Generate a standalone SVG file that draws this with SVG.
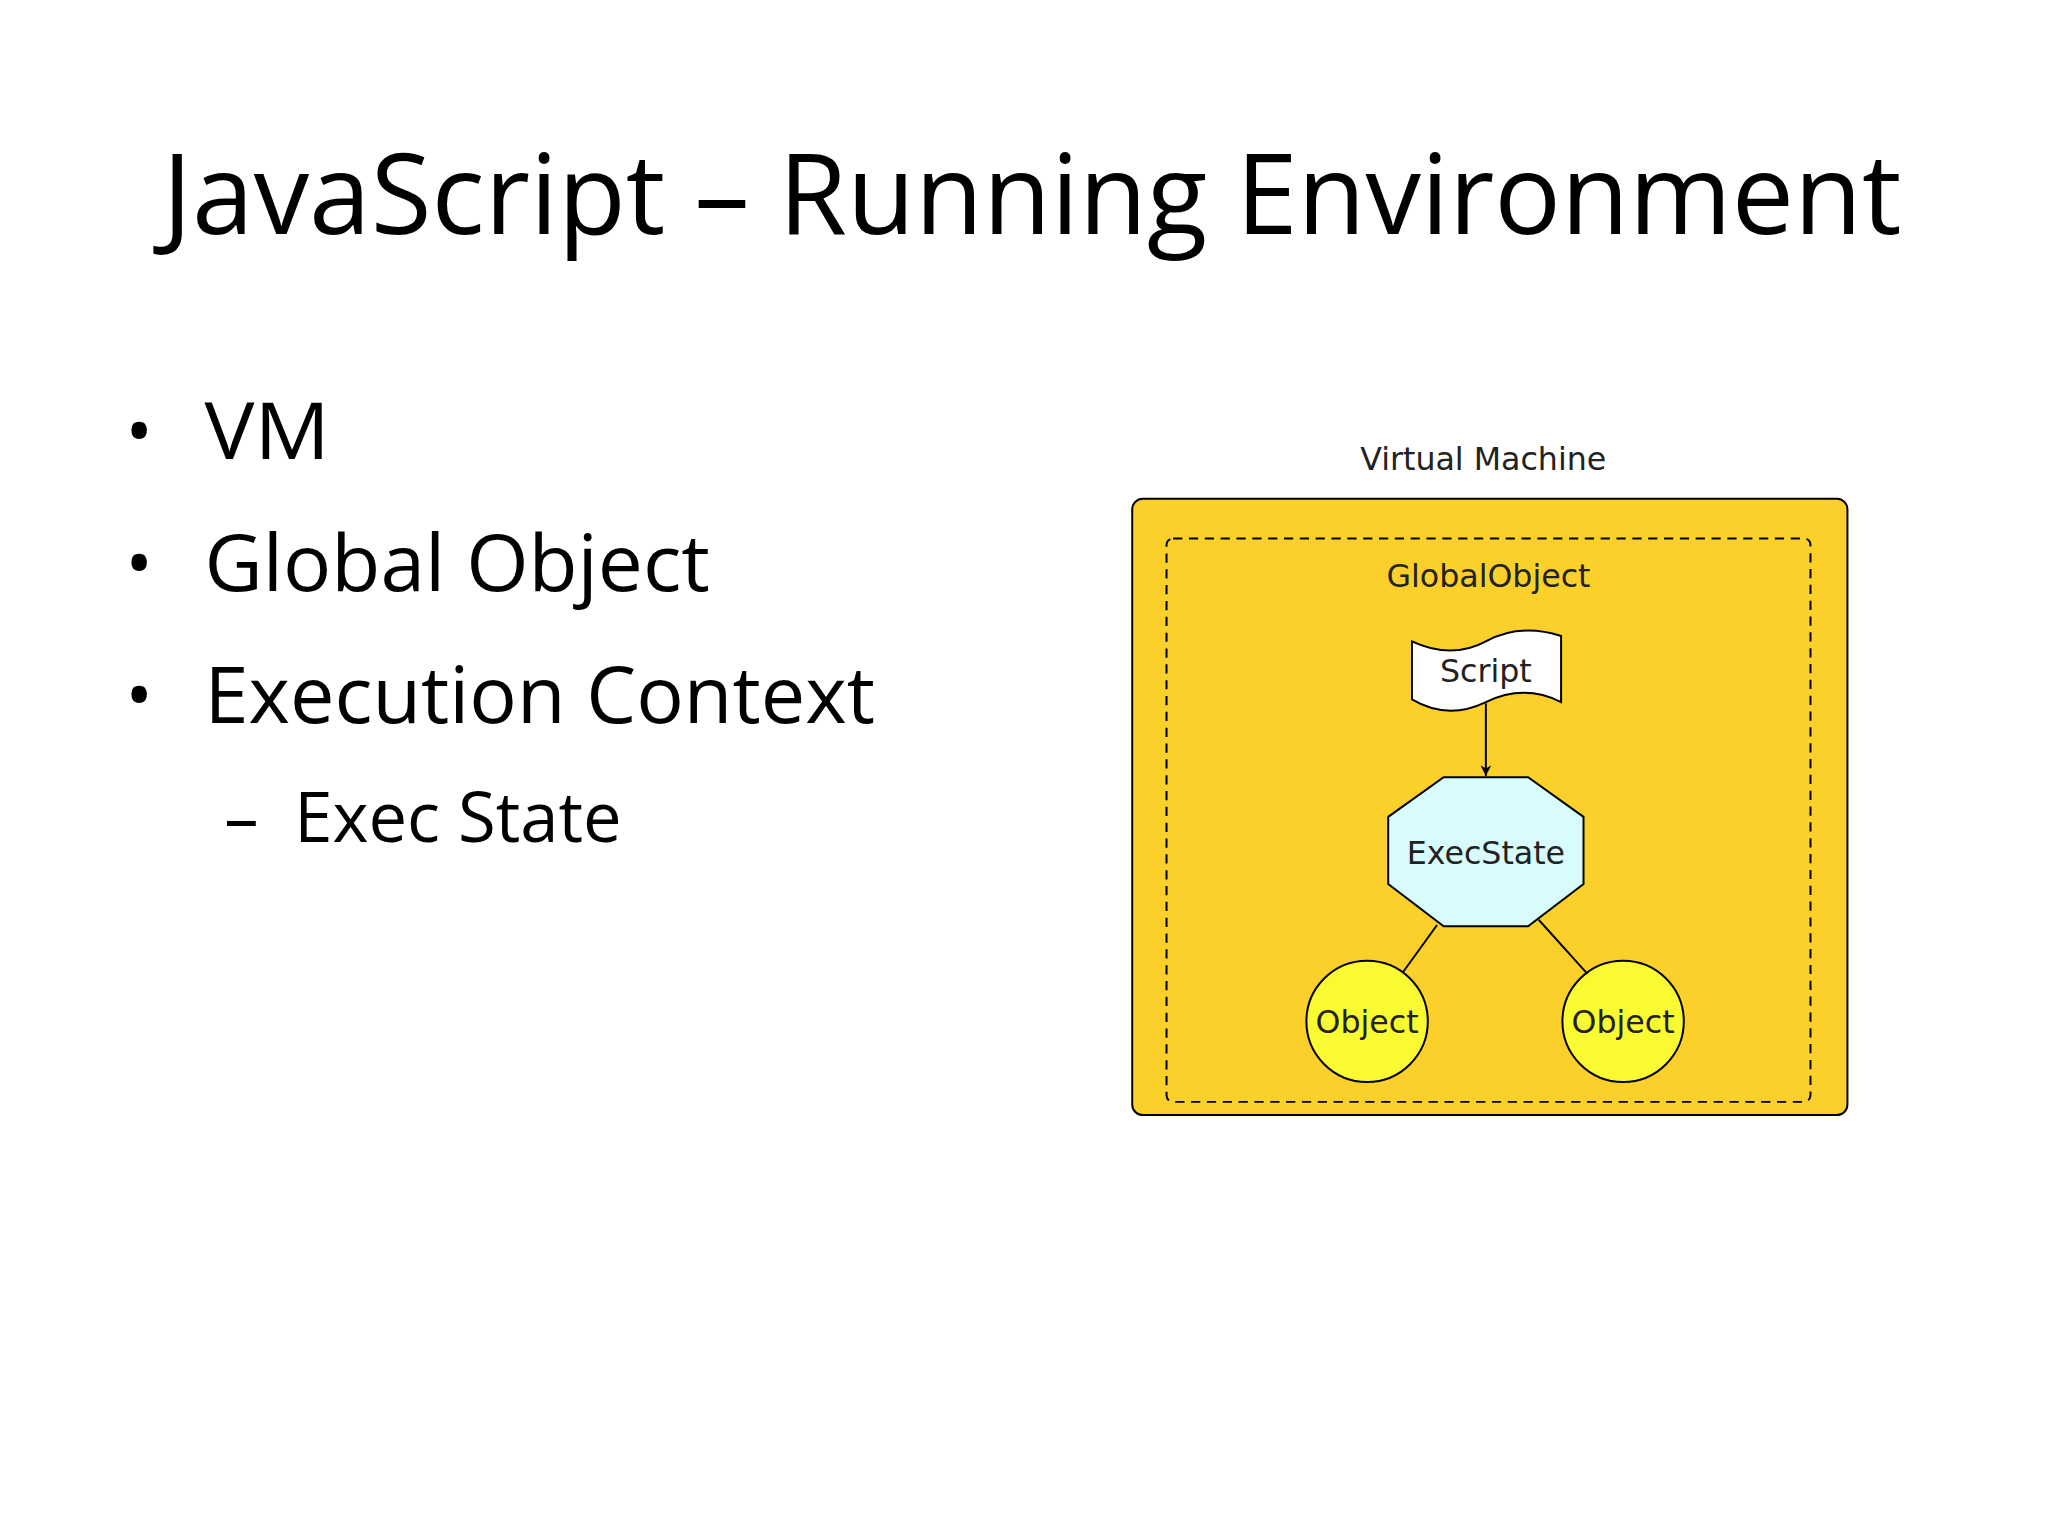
<svg xmlns="http://www.w3.org/2000/svg" width="2048" height="1536" viewBox="0 0 2048 1536">
<style>
.t{font-family:"Open Sans","Liberation Sans",sans-serif;fill:#000}
.d{font-family:"DejaVu Sans","Liberation Sans",sans-serif;fill:#222}
.ln{stroke:#000;stroke-width:1.5;fill:none}
</style>
<defs>
<marker id="ah" viewBox="0 0 10 10" refX="10" refY="5" markerWidth="8" markerHeight="8" orient="auto" markerUnits="userSpaceOnUse">
<path d="M0,0 L10,5 L0,10 L3,5 z" fill="#000"/>
</marker>
</defs>
<rect width="2048" height="1536" fill="#fff"/>
<g transform="scale(1.3196)">
<g id="title"><text class="t" x="782" y="177" font-size="84" text-anchor="middle" textLength="1318" lengthAdjust="spacingAndGlyphs">JavaScript – Running Environment</text></g>
<g id="bullets" class="t">
<text class="t" x="95" y="346" font-size="56">•</text><text class="t" x="155" y="348" font-size="60" textLength="95" lengthAdjust="spacingAndGlyphs">VM</text>
<text class="t" x="95" y="446" font-size="56">•</text><text class="t" x="155" y="448" font-size="60" textLength="383" lengthAdjust="spacingAndGlyphs">Global Object</text>
<text class="t" x="95" y="546" font-size="56">•</text><text class="t" x="155" y="548" font-size="60" textLength="508" lengthAdjust="spacingAndGlyphs">Execution Context</text>
<text class="t" x="170" y="638" font-size="52">–</text><text class="t" x="223" y="638" font-size="52" textLength="248" lengthAdjust="spacingAndGlyphs">Exec State</text>
</g>
<g id="vm">
<text class="d" x="1124" y="356" font-size="24" text-anchor="middle">Virtual Machine</text>
<rect x="858" y="378" width="542" height="467" rx="8" fill="#FBD02A" stroke="#000" stroke-width="1.5"/>
</g>
<g id="globalobject">
<rect x="884" y="408" width="488" height="427" rx="5" fill="none" stroke="#000" stroke-width="1.5" stroke-dasharray="7,5"/>
<text class="d" x="1128" y="445" font-size="24" text-anchor="middle">GlobalObject</text>
</g>
<g id="script">
<path d="M1070,486 Q1100,500 1126,486 T1183,482 L1183,532 Q1155,518 1126,532 T1070,530 Z" fill="#fff" stroke="#000" stroke-width="1.5"/>
<text class="d" x="1126" y="517" font-size="24" text-anchor="middle">Script</text>
</g>
<g id="execstate">
<polygon points="1094,589 1158,589 1200,619 1200,670 1158,702 1094,702 1052,670 1052,619" fill="#D8FCFC" stroke="#000" stroke-width="1.5"/>
<text class="d" x="1126" y="655" font-size="24" text-anchor="middle">ExecState</text>
</g>
<g id="object1">
<circle cx="1036" cy="774" r="46" fill="#FAFA32" stroke="#000" stroke-width="1.5"/>
<text class="d" x="1036" y="783" font-size="24" text-anchor="middle">Object</text>
</g>
<g id="object2">
<circle cx="1230" cy="774" r="46" fill="#FAFA32" stroke="#000" stroke-width="1.5"/>
<text class="d" x="1230" y="783" font-size="24" text-anchor="middle">Object</text>
</g>
<g id="connectors">
<line class="ln" x1="1126" y1="533" x2="1126" y2="588" marker-end="url(#ah)"/>
<line class="ln" x1="1089" y1="701" x2="1063" y2="737"/>
<line class="ln" x1="1166" y1="697" x2="1203" y2="738"/>
</g>
</g>
</svg>
